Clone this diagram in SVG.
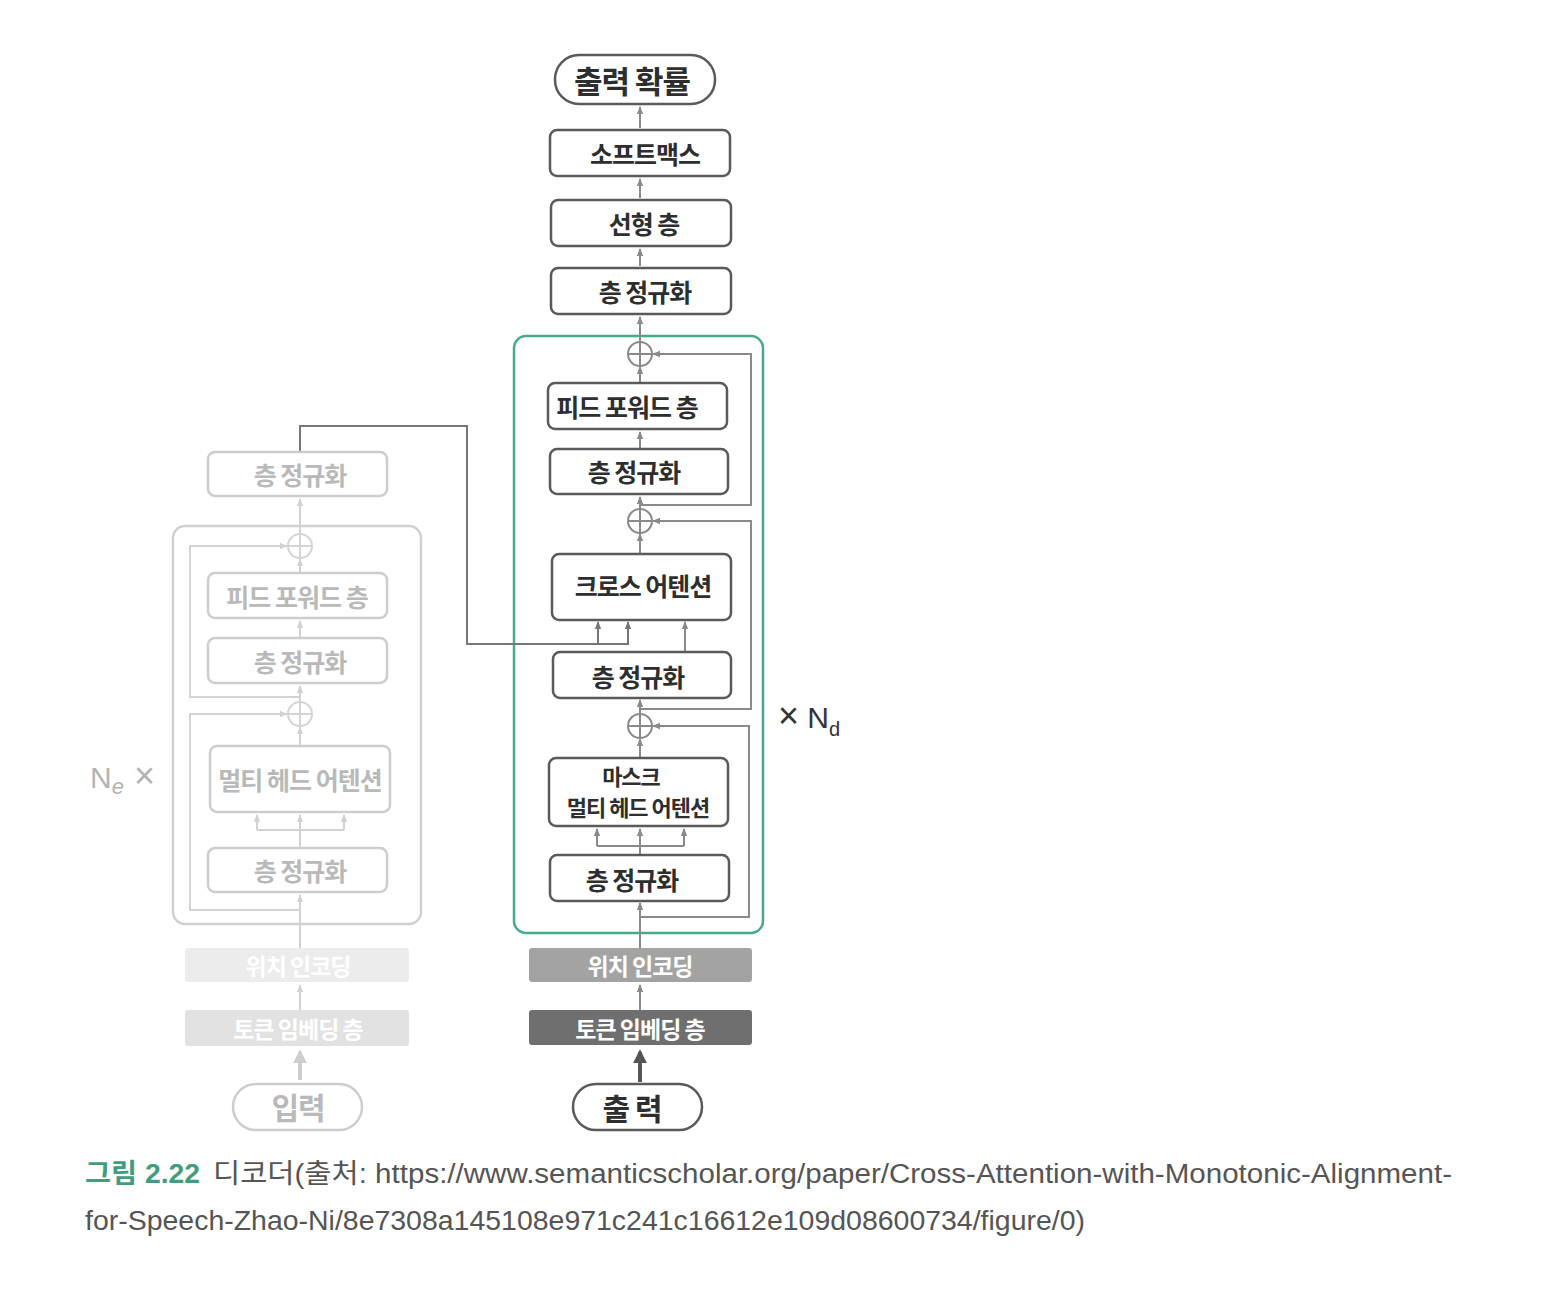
<svg xmlns="http://www.w3.org/2000/svg" width="1568" height="1298" viewBox="0 0 1568 1298">
<style>
.box{fill:#fff;stroke:#5a5a5a;stroke-width:2.5}
.fbox{fill:#fff;stroke:#cdcdcd;stroke-width:2.5}
.lbl{font-family:"Noto Sans CJK KR","Noto Sans",sans-serif;font-weight:700;font-size:25px;fill:#2e2e2e;text-anchor:middle;dominant-baseline:central;letter-spacing:-1px}
.flbl{font-family:"Noto Sans CJK KR","Noto Sans",sans-serif;font-weight:700;font-size:25px;fill:#b9b9b9;text-anchor:middle;dominant-baseline:central;letter-spacing:-1px}
.wlbl{font-family:"Noto Sans CJK KR","Noto Sans",sans-serif;font-weight:700;font-size:23px;fill:#fff;text-anchor:middle;dominant-baseline:central;letter-spacing:-1px}
.c{fill:none;stroke:#8a8a8a;stroke-width:2}
.cf{fill:none;stroke:#d2d2d2;stroke-width:2}
.link{fill:none;stroke:#777;stroke-width:2}
.plus{fill:none;stroke:#8a8a8a;stroke-width:2}
.fplus{fill:none;stroke:#d4d4d4;stroke-width:2}
</style>
<defs>
<marker id="a" viewBox="0 0 8 8" refX="7" refY="4" markerWidth="8" markerHeight="8" markerUnits="userSpaceOnUse" orient="auto"><path d="M0,0.8 L8,4 L0,7.2 z" fill="#8a8a8a"/></marker>
<marker id="af" viewBox="0 0 8 8" refX="7" refY="4" markerWidth="8" markerHeight="8" markerUnits="userSpaceOnUse" orient="auto"><path d="M0,0.8 L8,4 L0,7.2 z" fill="#d2d2d2"/></marker>
<marker id="al" viewBox="0 0 8 8" refX="7" refY="4" markerWidth="8" markerHeight="8" markerUnits="userSpaceOnUse" orient="auto"><path d="M0,0.8 L8,4 L0,7.2 z" fill="#777"/></marker>
<marker id="big" viewBox="0 0 10 10" refX="8" refY="5" markerWidth="14" markerHeight="14" markerUnits="userSpaceOnUse" orient="auto"><path d="M0,0 L10,5 L0,10 z" fill="#555"/></marker>
<marker id="bigf" viewBox="0 0 10 10" refX="8" refY="5" markerWidth="14" markerHeight="14" markerUnits="userSpaceOnUse" orient="auto"><path d="M0,0 L10,5 L0,10 z" fill="#cfcfcf"/></marker>
</defs>
<rect width="1568" height="1298" fill="#fff"/>

<!-- Frames -->
<g id="decoder-frame"><rect x="514" y="336" width="249" height="597" rx="12" fill="none" stroke="#47aa8c" stroke-width="2.5"/></g>
<g id="encoder-frame"><rect x="173" y="526" width="248" height="398" rx="12" fill="none" stroke="#d0d0d0" stroke-width="2.5"/></g>

<!-- Connectors -->
<g id="connectors">
  <!-- decoder -->
  <path class="c" d="M640,128 V107" marker-end="url(#a)"/>
  <path class="c" d="M640,198 V179" marker-end="url(#a)"/>
  <path class="c" d="M640,266 V249" marker-end="url(#a)"/>
  <path class="c" d="M640,342 V317" marker-end="url(#a)"/>
  <path class="c" d="M640,383 V367" marker-end="url(#a)"/>
  <path class="c" d="M640,449 V432" marker-end="url(#a)"/>
  <path class="c" d="M640,509 V497" marker-end="url(#a)"/>
  <path class="c" d="M640,554 V534" marker-end="url(#a)"/>
  <path class="c" d="M640,505 H751 V354 H653" marker-end="url(#a)"/>
  <path class="c" d="M640,709 H751 V521 H653" marker-end="url(#a)"/>
  <path class="c" d="M640,917 H749 V726 H653" marker-end="url(#a)"/>
  <path class="link" d="M300,452 V426 H467 V644 H628 V622" marker-end="url(#al)"/>
  <path class="link" d="M598,644 V622" marker-end="url(#al)"/>
  <path class="c" d="M685,652 V622" marker-end="url(#a)"/>
  <path class="c" d="M640,714 V700" marker-end="url(#a)"/>
  <path class="c" d="M640,758 V739" marker-end="url(#a)"/>
  <path class="c" d="M597,846 H684"/>
  <path class="c" d="M597,846 V829" marker-end="url(#a)"/>
  <path class="c" d="M640,855 V829" marker-end="url(#a)"/>
  <path class="c" d="M684,846 V829" marker-end="url(#a)"/>
  <path class="c" d="M640,948 V903" marker-end="url(#a)"/>
  <path class="c" d="M640,1010 V985" marker-end="url(#a)"/>
  <path d="M640,1082 V1052" fill="none" stroke="#555" stroke-width="4" marker-end="url(#big)"/>
  <!-- encoder -->
  <path class="cf" d="M300,534 V499" marker-end="url(#af)"/>
  <path class="cf" d="M300,697 H190 V546 H287" marker-end="url(#af)"/>
  <path class="cf" d="M300,573 V559" marker-end="url(#af)"/>
  <path class="cf" d="M300,638 V621" marker-end="url(#af)"/>
  <path class="cf" d="M300,702 V686" marker-end="url(#af)"/>
  <path class="cf" d="M300,746 V727" marker-end="url(#af)"/>
  <path class="cf" d="M300,910 H190 V714 H287" marker-end="url(#af)"/>
  <path class="cf" d="M257,830 H344"/>
  <path class="cf" d="M257,830 V815" marker-end="url(#af)"/>
  <path class="cf" d="M300,848 V815" marker-end="url(#af)"/>
  <path class="cf" d="M344,830 V815" marker-end="url(#af)"/>
  <path class="cf" d="M300,948 V895" marker-end="url(#af)"/>
  <path class="cf" d="M300,1010 V985" marker-end="url(#af)"/>
  <path d="M300,1080 V1052" fill="none" stroke="#cfcfcf" stroke-width="4" marker-end="url(#bigf)"/>
</g>

<!-- Decoder nodes -->
<g id="out-prob"><rect class="box" x="555" y="55" width="160" height="49" rx="24"/><text class="lbl" x="632" y="79" style="font-size:31px">출력 확률</text></g>
<g id="softmax"><rect class="box" x="550" y="130" width="180" height="46" rx="7"/><text class="lbl" x="645" y="153">소프트맥스</text></g>
<g id="linear"><rect class="box" x="551" y="200" width="180" height="46" rx="7"/><text class="lbl" x="644" y="223">선형 층</text></g>
<g id="norm-top"><rect class="box" x="551" y="268" width="180" height="46" rx="7"/><text class="lbl" x="645" y="291">층 정규화</text></g>
<g id="add-d3"><circle class="plus" cx="640" cy="354" r="12"/><path class="plus" d="M628,354 H652 M640,342 V366"/></g>
<g id="ffn-d"><rect class="box" x="548" y="383" width="179" height="46" rx="7"/><text class="lbl" x="627" y="406">피드 포워드 층</text></g>
<g id="norm-d3"><rect class="box" x="550" y="449" width="178" height="45" rx="7"/><text class="lbl" x="634" y="471">층 정규화</text></g>
<g id="add-d2"><circle class="plus" cx="640" cy="521" r="12"/><path class="plus" d="M628,521 H652 M640,509 V533"/></g>
<g id="cross-attn"><rect class="box" x="552" y="554" width="179" height="66" rx="7"/><text class="lbl" x="643" y="585">크로스 어텐션</text></g>
<g id="norm-d2"><rect class="box" x="553" y="652" width="178" height="46" rx="7"/><text class="lbl" x="638" y="676">층 정규화</text></g>
<g id="add-d1"><circle class="plus" cx="640" cy="726" r="12"/><path class="plus" d="M628,726 H652 M640,714 V738"/></g>
<g id="masked-attn"><rect class="box" x="549" y="758" width="179" height="68" rx="7"/><text class="lbl" x="631" y="775" style="font-size:22px">마스크</text><text class="lbl" x="638" y="806" style="font-size:22px">멀티 헤드 어텐션</text></g>
<g id="norm-d1"><rect class="box" x="550" y="855" width="179" height="46" rx="7"/><text class="lbl" x="632" y="879">층 정규화</text></g>
<g id="nd-label"><text x="778" y="728" font-family="'Liberation Sans',sans-serif" font-size="30" fill="#333"><tspan font-size="36">×</tspan> N<tspan font-size="20" dy="8">d</tspan></text></g>
<g id="pos-enc-d"><rect x="529" y="948" width="223" height="34" rx="3" fill="#a3a3a3"/><text class="wlbl" x="640" y="965">위치 인코딩</text></g>
<g id="tok-emb-d"><rect x="529" y="1010" width="223" height="35" rx="3" fill="#6f6f6f"/><text class="wlbl" x="640" y="1028">토큰 임베딩 층</text></g>
<g id="output-in"><rect class="box" x="573" y="1084" width="129" height="46" rx="23"/><text class="lbl" x="632" y="1107" style="font-size:30px">출 력</text></g>

<!-- Encoder nodes (faded) -->
<g id="norm-e-top"><rect class="fbox" x="208" y="452" width="179" height="44" rx="7"/><text class="flbl" x="300" y="474">층 정규화</text></g>
<g id="add-e2"><circle class="fplus" cx="300" cy="546" r="12"/><path class="fplus" d="M288,546 H312 M300,534 V558"/></g>
<g id="ffn-e"><rect class="fbox" x="208" y="573" width="179" height="45" rx="7"/><text class="flbl" x="297" y="596">피드 포워드 층</text></g>
<g id="norm-e2"><rect class="fbox" x="208" y="638" width="179" height="45" rx="7"/><text class="flbl" x="300" y="661">층 정규화</text></g>
<g id="add-e1"><circle class="fplus" cx="300" cy="714" r="12"/><path class="fplus" d="M288,714 H312 M300,702 V726"/></g>
<g id="mha-e"><rect class="fbox" x="210" y="746" width="180" height="66" rx="7"/><text class="flbl" x="300" y="779">멀티 헤드 어텐션</text></g>
<g id="norm-e1"><rect class="fbox" x="208" y="848" width="179" height="44" rx="7"/><text class="flbl" x="300" y="870">층 정규화</text></g>
<g id="ne-label"><text x="90" y="788" font-family="'Liberation Sans',sans-serif" font-size="30" fill="#b3b3b3">N<tspan font-size="22" font-style="italic" dy="6">e</tspan><tspan dy="-6" font-size="36"> ×</tspan></text></g>
<g id="pos-enc-e"><rect x="185" y="948" width="224" height="34" rx="3" fill="#ececec"/><text class="wlbl" x="298" y="965">위치 인코딩</text></g>
<g id="tok-emb-e"><rect x="185" y="1010" width="224" height="36" rx="3" fill="#e2e2e2"/><text class="wlbl" x="298" y="1028">토큰 임베딩 층</text></g>
<g id="input"><rect class="fbox" x="233" y="1084" width="129" height="46" rx="23"/><text class="flbl" x="298" y="1106" style="font-size:30px">입력</text></g>

<!-- Caption -->
<g id="caption" font-family="'Liberation Sans','Noto Sans CJK KR',sans-serif" font-size="27">
  <text x="85" y="1183" fill="#3f9e80" font-weight="700" textLength="115" lengthAdjust="spacingAndGlyphs">그림 2.22</text>
  <text x="213" y="1183" fill="#555" textLength="1239" lengthAdjust="spacingAndGlyphs">디코더(출처: https://www.semanticscholar.org/paper/Cross-Attention-with-Monotonic-Alignment-</text>
  <text x="85" y="1230" fill="#555" textLength="1000" lengthAdjust="spacingAndGlyphs">for-Speech-Zhao-Ni/8e7308a145108e971c241c16612e109d08600734/figure/0)</text>
</g>
</svg>
